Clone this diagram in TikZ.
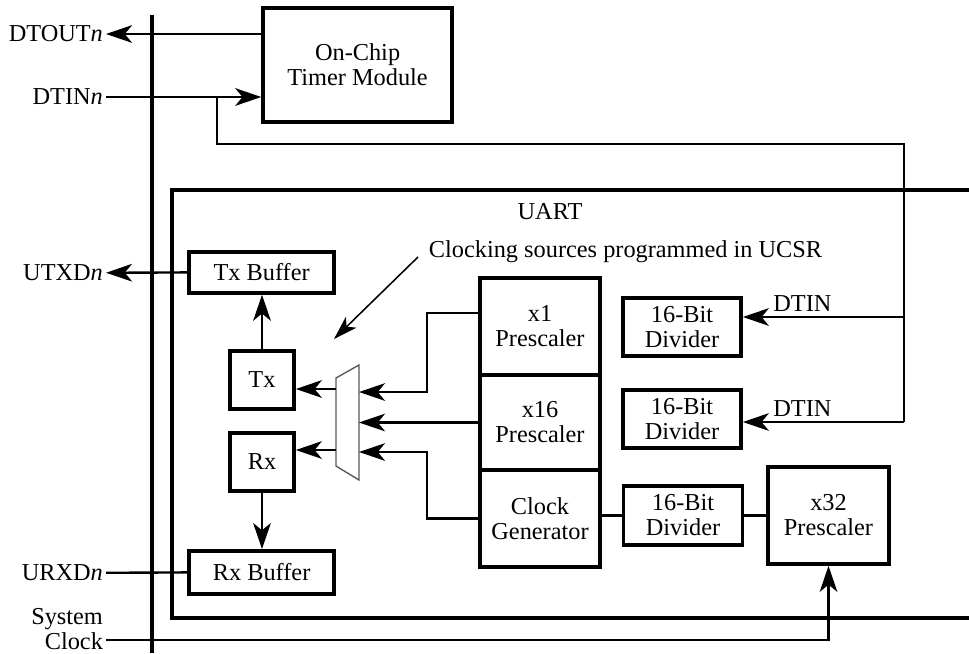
\documentclass[tikz,border=0pt]{standalone}
\usepackage{fontspec}
\setmainfont{Liberation Serif}
\usetikzlibrary{arrows.meta, positioning, calc}

\begin{document}
\begin{tikzpicture}[font=\fontsize{17.3}{17.8}\selectfont,
	caja/.style={rectangle, draw, line width=2.6pt, align=center, inner sep=2pt},
	sig/.style={inner sep=2pt, anchor=east},
	ln/.style={line width=1.7pt},
	fl/.style={-{Stealth[length=6.5mm, width=4.4mm, inset=1.8mm]}, line width=1.7pt},
	flfino/.style={-{Stealth[length=6mm, width=3.8mm, inset=1.6mm]}, line width=1.1pt}]

	\useasboundingbox (0,0) rectangle (24.225,-16.325);

	\node[caja, minimum width=4.725cm, minimum height=2.85cm] (tmr) at (8.94,-1.625)
		{On-Chip\\Timer Module};
	\node[caja, minimum width=3.625cm, minimum height=1.025cm] (txbuf) at (6.54,-6.81) {Tx Buffer};
	\node[caja, minimum width=1.6cm, minimum height=1.45cm] (tx) at (6.55,-9.5) {Tx};
	\node[caja, minimum width=1.6cm, minimum height=1.45cm] (rx) at (6.55,-11.55) {Rx};
	\node[caja, minimum width=3.625cm, minimum height=1.075cm] (rxbuf) at (6.54,-14.31) {Rx Buffer};

	\node[caja, minimum width=3cm, minimum height=2.425cm] (psa) at (13.5,-8.1625) {x1\\Prescaler};
	\node[caja, minimum width=3cm, minimum height=2.375cm] (psb) at (13.5,-10.5625) {x16\\Prescaler};
	\node[caja, minimum width=3cm, minimum height=2.425cm] (clkgen) at (13.5,-12.9625) {Clock\\Generator};

	\node[caja, minimum width=2.95cm, minimum height=1.45cm] (diva) at (17.05,-8.175) {16-Bit\\Divider};
	\node[caja, minimum width=2.95cm, minimum height=1.45cm] (divb) at (17.05,-10.475) {16-Bit\\Divider};
	\node[caja, minimum width=2.975cm, minimum height=1.475cm] (divc) at (17.075,-12.8875) {16-Bit\\Divider};
	\node[caja, minimum width=3.025cm, minimum height=2.425cm] (psc) at (20.7125,-12.8875) {x32\\Prescaler};

	\node[sig] (dtout) at (2.65,-0.85) {DTOUT\textit{n}};
	\node[sig] (dtin) at (2.65,-2.425) {DTIN\textit{n}};
	\node[sig] (utxd) at (2.65,-6.825) {UTXD\textit{n}};
	\node[sig] (urxd) at (2.65,-14.325) {URXD\textit{n}};
	\node[sig, align=right] (sysclk) at (2.65,-15.72) {System\\Clock};

	\draw[line width=2.6pt] (3.8,-0.375) -- (3.8,-16.325);
	\draw[line width=2.6pt] (24.225,-4.75) -| (4.3,-15.45) -- (24.225,-15.45);
	\node (uart) at (13.75,-5.3) {UART};

	\draw[black!65, line width=1pt] (8.4,-9.45) -- (8.975,-9.125) -- (8.975,-12.0)
		-- (8.4,-11.65) -- cycle;
	\coordinate (mi1) at (8.975,-9.8);
	\coordinate (mi2) at (8.975,-10.55);
	\coordinate (mi3) at (8.975,-11.3);
	\coordinate (mo1) at (8.4,-9.725);
	\coordinate (mo2) at (8.4,-11.25);

	\node[anchor=west] (nota) at (10.6,-6.3) {Clocking sources programmed in UCSR};
	\coordinate (sel) at (8.35,-8.475);
	\draw[flfino] ($(nota.west)+(-0.15,-0.125)$) -- (sel);

	\draw[fl] (tmr.west |- dtout) -- (dtout);
	\draw[fl] (dtin) -- (dtin -| tmr.west);
	\coordinate (ja) at (5.425,-2.425);
	\coordinate (jb) at (22.6,-7.925);
	\coordinate (jc) at (22.6,-10.55);
	\draw[ln] (ja) |- (22.6,-3.6) -- (jc);
	\draw[fl] (jb) -- (jb -| diva.east) node[above, pos=0.63] {DTIN};
	\draw[fl] (jc) -- (jc -| divb.east) node[above, pos=0.63] {DTIN};

	\draw[fl] (txbuf.west) -- (utxd);
	\draw[fl] (tx.north) -- (tx.north |- txbuf.south);
	\draw[fl] (rx.south) -- (rx.south |- rxbuf.north);
	\draw[ln] (urxd) -- (rxbuf.west);
	\draw[fl] (mo1) -- (mo1 -| tx.east);
	\draw[fl] (mo2) -- (mo2 -| rx.east);

	\draw[fl] ([yshift=0.3375cm]psa.west) -| (10.675,-9.8) -- (mi1);
	\draw[fl] (psb.west) -- (psb.west -| mi2);
	\draw[fl] (clkgen.west) -| (10.675,-11.3) -- (mi3);
	\draw[ln] (divc.west) -- (divc.west -| clkgen.east);
	\draw[ln] (divc.east) -- (divc.east -| psc.west);
	\draw[fl] ($(sysclk.east)+(0,-0.28)$) -| (psc.south);
\end{tikzpicture}
\end{document}
